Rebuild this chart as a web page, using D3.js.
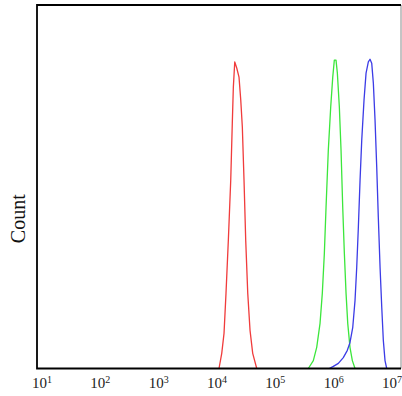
<!DOCTYPE html>
<html>
<head>
<meta charset="utf-8">
<script src="https://cdn.jsdelivr.net/npm/d3@7"></script>
<style>
  body { margin: 0; background: #fff; }
  svg { display: block; }
</style>
</head>
<body>
<svg id="chart" width="402" height="396"></svg>
<script>
// decade tick exponents for the x axis (10^1 .. 10^7)
const tickExponents = [1, 2, 3, 4, 5, 6, 7];

// histograms: x as log10 of intensity, y as count
const redLog = [4.034, 4.081, 4.120, 4.154, 4.194, 4.235, 4.262, 4.280, 4.304, 4.338, 4.377,
  4.407, 4.434, 4.463, 4.492, 4.527, 4.566, 4.612, 4.681];
const redCount = [0, 5.0, 11.6, 24.8, 42.3, 62.1, 81.0, 92.9, 101.2, 99.2, 96.2,
  88.6, 79.7, 62.1, 42.3, 24.8, 12.6, 5.0, 0];

const greenLog = [5.565, 5.651, 5.709, 5.766, 5.805, 5.840, 5.869, 5.908, 5.949, 5.984, 6.011,
  6.040, 6.063, 6.097, 6.126, 6.155, 6.183, 6.212, 6.241, 6.280, 6.320, 6.366];
const greenCount = [0, 2.6, 7.0, 14.9, 24.8, 38.0, 53.2, 72.1, 86.3, 96.2, 101.8,
  101.8, 97.5, 86.3, 72.1, 53.2, 38.0, 24.8, 14.9, 6.9, 2.6, 0];

const blueLog = [5.925, 5.994, 6.080, 6.165, 6.234, 6.280, 6.327, 6.366, 6.395, 6.423, 6.452,
  6.481, 6.520, 6.555, 6.594, 6.623, 6.652, 6.680, 6.709, 6.738, 6.765, 6.795, 6.824,
  6.851, 6.880, 6.909];
const blueCount = [0, 0.7, 1.7, 3.6, 6.0, 8.6, 13.6, 22.5, 33.4, 46.6, 62.1,
  75.4, 88.6, 97.5, 101.2, 102.1, 100.8, 94.2, 82.0, 66.4, 49.9, 33.4, 20.2,
  9.3, 2.6, 0];

const seriesList = [
  { name: "red", logs: redLog, counts: redCount, color: "#f03c3c" },
  { name: "green", logs: greenLog, counts: greenCount, color: "#3ce63c" },
  { name: "blue", logs: blueLog, counts: blueCount, color: "#3c3ce6" }
];

const svg = d3.select("#chart");
const plotLeft = 37, plotRight = 401, plotTop = 5, plotBottom = 368.5;

const x = d3.scaleLog()
  .domain([Math.pow(10, 0.914), Math.pow(10, 7.154)])
  .range([plotLeft, plotRight]);

const y = d3.scaleLinear()
  .domain([0, 120])
  .range([plotBottom, plotTop]);

const line = d3.line()
  .x(d => x(Math.pow(10, d[0])))
  .y(d => y(d[1]));

// curves
seriesList.forEach(s => {
  const pts = s.logs.map((v, i) => [v, s.counts[i]]);
  svg.append("path")
    .datum(pts)
    .attr("fill", "none")
    .attr("stroke", s.color)
    .attr("stroke-width", 1.3)
    .attr("stroke-linejoin", "round")
    .attr("d", line);
});

// frame
svg.append("line")
  .attr("x1", plotRight).attr("x2", plotRight)
  .attr("y1", plotTop).attr("y2", plotBottom)
  .attr("stroke", "#8a8a8a").attr("stroke-width", 1);
svg.append("path")
  .attr("d", `M${plotRight},${plotTop}H${plotLeft}V${plotBottom}H${plotRight}`)
  .attr("fill", "none")
  .attr("stroke", "#000")
  .attr("stroke-width", 1.8);

// x tick labels
const labels = svg.append("g")
  .attr("font-family", "'Liberation Serif', 'DejaVu Serif', serif")
  .attr("fill", "#222");

tickExponents.forEach(e => {
  const t = labels.append("text")
    .attr("x", x(Math.pow(10, e)))
    .attr("y", 388)
    .attr("text-anchor", "middle")
    .attr("font-size", 15);
  t.append("tspan").text("10");
  t.append("tspan")
    .attr("font-size", 10)
    .attr("dy", -5.5)
    .text(e);
});

// y axis title
svg.append("text")
  .attr("transform", `translate(25, ${(plotTop + plotBottom) / 2 + 32}) rotate(-90)`)
  .attr("text-anchor", "middle")
  .attr("font-family", "'Liberation Serif', 'DejaVu Serif', serif")
  .attr("font-size", 20)
  .attr("fill", "#111")
  .text("Count");
</script>
</body>
</html>
